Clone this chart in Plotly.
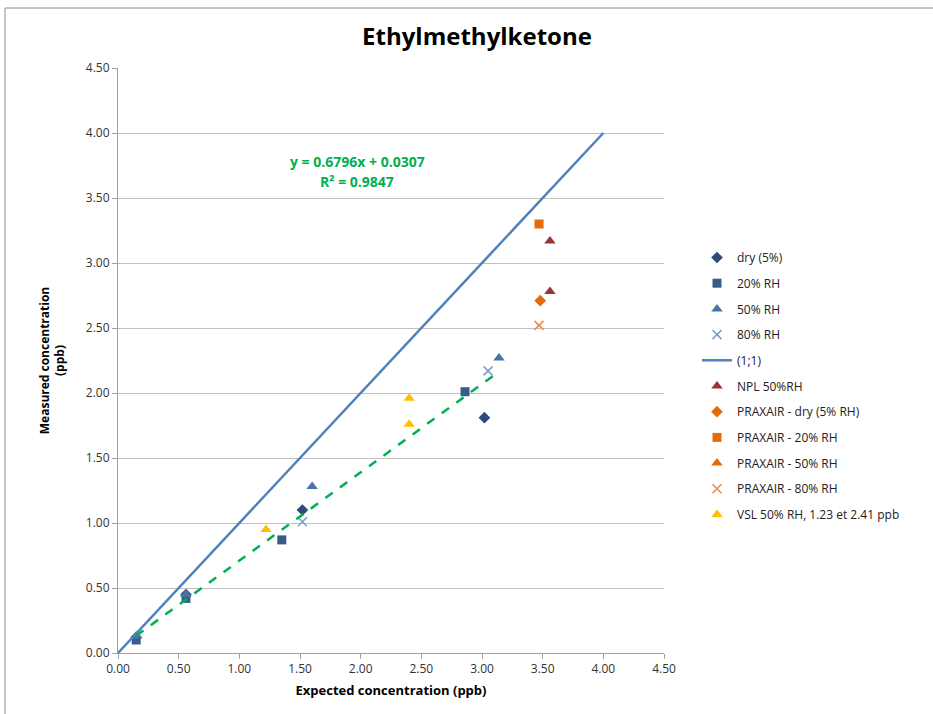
import plotly.graph_objects as go

# ---- data ----
dry_x = [0.15, 0.56, 1.52, 3.02]
dry_y = [0.12, 0.45, 1.10, 1.81]
rh20_x = [0.15, 0.56, 1.35, 2.86]
rh20_y = [0.10, 0.42, 0.87, 2.01]
rh50_x = [0.15, 0.56, 1.60, 3.14]
rh50_y = [0.13, 0.45, 1.28, 2.27]
rh80_x = [1.52, 3.05]
rh80_y = [1.01, 2.17]
ref_x = [0.0, 4.0]
ref_y = [0.0, 4.0]
npl_x = [3.56, 3.56]
npl_y = [3.17, 2.78]
prx_dry_x = [3.48]
prx_dry_y = [2.71]
prx20_x = [3.47]
prx20_y = [3.30]
prx50_x = [None]
prx50_y = [None]
prx80_x = [3.47]
prx80_y = [2.52]
vsl_x = [1.22, 2.40, 2.40]
vsl_y = [0.95, 1.96, 1.76]
trend_slope = 0.6796
trend_intercept = 0.0307
trend_r2 = 0.9847
trend_x = [0.15, 3.14]
trend_y = [trend_slope * v + trend_intercept for v in trend_x]
x_ticks = [0, 0.5, 1.0, 1.5, 2.0, 2.5, 3.0, 3.5, 4.0, 4.5]
y_ticks = [0, 0.5, 1.0, 1.5, 2.0, 2.5, 3.0, 3.5, 4.0, 4.5]

FONT = "'Open Sans', sans-serif"

W, H = 933, 714
L, R, T, B = 118, 269, 68, 61
PW = W - L - R
PH = H - T - B

def px_x(px):  # page px -> paper x
    return (px - L) / PW

def px_y(py):  # page px -> paper y
    return (H - B - py) / PH

fig = go.Figure()

def mk(x, y, name, symbol, color, size=9):
    marker = dict(symbol=symbol, color=color, size=size)
    if symbol == "x-thin":
        marker["line"] = dict(color=color, width=1.5)
    fig.add_trace(go.Scatter(x=x, y=y, mode="markers", name=name, marker=marker,
                             legendgroup=name))

mk(dry_x, dry_y, "dry (5%)", "diamond", "#2C4D75", 9)
mk(rh20_x, rh20_y, "20% RH", "square", "#385D8A", 9)
mk(rh50_x, rh50_y, "50% RH", "triangle-up", "#4A72A8", 10)
mk(rh80_x, rh80_y, "80% RH", "x-thin", "#7E9CCB", 9)
fig.add_trace(go.Scatter(x=ref_x, y=ref_y, mode="lines", name="(1;1)",
                         legendgroup="(1;1)",
                         line=dict(color="#4F81BD", width=2.5)))
mk(npl_x, npl_y, "NPL 50%RH", "triangle-up", "#953735", 10)
mk(prx_dry_x, prx_dry_y, "PRAXAIR - dry (5% RH)", "diamond", "#E46C0A", 9)
mk(prx20_x, prx20_y, "PRAXAIR - 20% RH", "square", "#E46C0A", 9)
mk(prx50_x, prx50_y, "PRAXAIR - 50% RH", "triangle-up", "#E46C0A", 10)
mk(prx80_x, prx80_y, "PRAXAIR - 80% RH", "x-thin", "#F0884A", 9)
mk(vsl_x, vsl_y, "VSL 50% RH, 1.23 et 2.41 ppb", "triangle-up", "#FFC000", 10)
fig.add_trace(go.Scatter(x=trend_x, y=trend_y, mode="lines", showlegend=False,
                         line=dict(color="#00B050", width=2.5, dash="dash")))

fig.add_annotation(xref="paper", yref="paper", x=px_x(357), y=px_y(161),
                   text=f"<b>y = {trend_slope}x + {trend_intercept}</b>",
                   showarrow=False, font=dict(color="#00B050", size=14, family=FONT),
                   xanchor="center", yanchor="middle")
fig.add_annotation(xref="paper", yref="paper", x=px_x(357), y=px_y(181),
                   text=f"<b>R² = {trend_r2}</b>",
                   showarrow=False, font=dict(color="#00B050", size=14, family=FONT),
                   xanchor="center", yanchor="middle")

# chart-area border (top & left visible)
fig.add_shape(type="rect", xref="paper", yref="paper",
              x0=px_x(5), x1=px_x(950), y0=px_y(730), y1=px_y(8),
              line=dict(color="#8C8C8C", width=1))

fig.update_layout(
    width=W, height=H,
    margin=dict(l=L, r=R, t=T, b=B),
    paper_bgcolor="white", plot_bgcolor="white",
    title=dict(text="<b>Ethylmethylketone</b>", x=477 / W, xanchor="center",
               y=1 - 37 / H, yanchor="middle",
               font=dict(size=24, family=FONT, color="black")),
    font=dict(family=FONT, size=12, color="#222"),
    legend=dict(x=px_x(697), y=px_y(243), xanchor="left", yanchor="top",
                font=dict(size=12, family=FONT, color="#222"),
                tracegroupgap=6.7, itemwidth=30,
                bgcolor="rgba(0,0,0,0)"),
    xaxis=dict(range=[0, 4.5], tickvals=x_ticks, tickformat=".2f",
               showgrid=False, zeroline=False, showline=True, linecolor="#A0A0A0",
               ticks="outside", ticklen=5, tickcolor="#A0A0A0",
               title=dict(text="<b>Expected concentration (ppb)</b>",
                          font=dict(size=13, family=FONT, color="black"), standoff=9),
               tickfont=dict(size=12, color="#333")),
    yaxis=dict(range=[0, 4.5], tickvals=y_ticks, tickformat=".2f",
               showgrid=True, gridcolor="#C0C0C0", zeroline=False, showline=True,
               linecolor="#A0A0A0", ticks="outside", ticklen=5, tickcolor="#A0A0A0",
               title=dict(text="<b>Measured concentration<br>(ppb)</b>",
                          font=dict(size=12, family=FONT, color="black"), standoff=18),
               tickfont=dict(size=12, color="#333")),
)

fig.write_html("out.html", config={"displayModeBar": False},
               post_script="document.body.style.margin='0';document.body.style.overflow='hidden';")
